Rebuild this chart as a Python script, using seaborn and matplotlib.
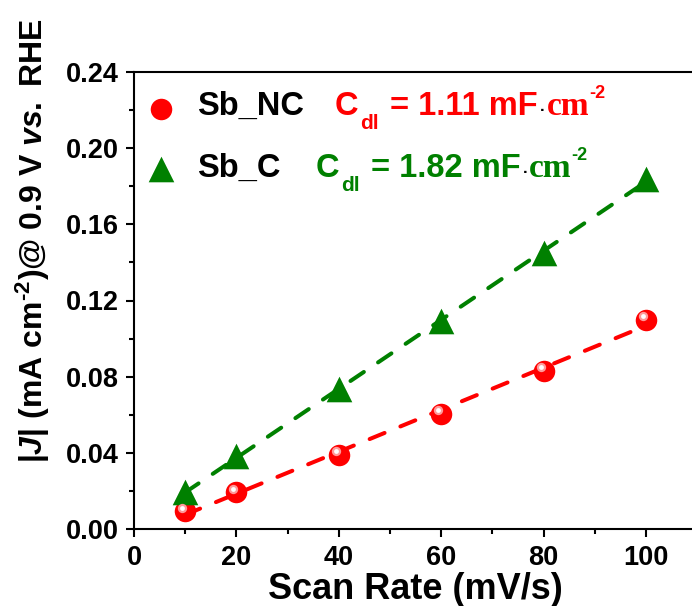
import numpy as np
import pandas as pd
import matplotlib
matplotlib.use("Agg")
import matplotlib.pyplot as plt
from matplotlib.ticker import MultipleLocator, FormatStrFormatter
from matplotlib.transforms import ScaledTranslation
import seaborn as sns

# ---- data -------------------------------------------------------------
scan_rate = [10, 20, 40, 60, 80, 100]                     # mV/s
j_sb_nc = [0.0094, 0.0192, 0.0389, 0.0604, 0.0830, 0.1098]  # mA cm^-2
j_sb_c = [0.0192, 0.0381, 0.0735, 0.1090, 0.1450, 0.1836]   # mA cm^-2
samples = ["Sb_NC", "Sb_C"]
cdl_values = [1.11, 1.82]                                 # mF cm^-2
colors = ["#ff0000", "#008000"]
x_ticks = [0, 20, 40, 60, 80, 100]
y_ticks = [0.00, 0.04, 0.08, 0.12, 0.16, 0.20, 0.24]

df = pd.DataFrame({
    "scan_rate": scan_rate + scan_rate,
    "j": j_sb_nc + j_sb_c,
    "sample": [samples[0]] * len(scan_rate) + [samples[1]] * len(scan_rate),
})

# ---- style ------------------------------------------------------------
sns.set_theme(style="ticks")
plt.rcParams["font.family"] = ["Liberation Sans", "DejaVu Sans"]
plt.rcParams["font.weight"] = "bold"
plt.rcParams["text.color"] = "black"
plt.rcParams["axes.labelcolor"] = "black"
plt.rcParams["xtick.color"] = "black"
plt.rcParams["ytick.color"] = "black"
plt.rcParams["mathtext.fontset"] = "custom"
plt.rcParams["mathtext.rm"] = "Liberation Sans:bold"
plt.rcParams["mathtext.it"] = "Liberation Sans:italic:bold"
plt.rcParams["mathtext.bf"] = "Liberation Sans:bold"

W, H, DPI = 692, 606, 100
fig = plt.figure(figsize=(W / DPI, H / DPI), dpi=DPI)
ax = fig.add_axes([134 / W, 77 / H, 558 / W, 457 / H])

# ---- linear fits (dashed) ----------------------------------------------
for name, color in zip(samples, colors):
    sub = df[df["sample"] == name]
    sns.regplot(data=sub, x="scan_rate", y="j", scatter=False, ci=None,
                ax=ax, color=color,
                line_kws=dict(lw=2.9, dashes=(4, 4.25),
                              dash_capstyle="round", zorder=2))

# ---- markers ------------------------------------------------------------
sub_nc = df[df["sample"] == samples[0]]
sub_c = df[df["sample"] == samples[1]]
sns.scatterplot(data=sub_nc, x="scan_rate", y="j", marker="o", s=240,
                color=colors[0], linewidth=0, ax=ax, zorder=3, legend=False)
sns.scatterplot(data=sub_c, x="scan_rate", y="j", marker="^", s=340,
                color=colors[1], linewidth=0, ax=ax, zorder=3, legend=False)


def sphere_glint(x, y, transform):
    """Small highlight on the red balls, shifted up-left."""
    shift = ScaledTranslation(-3.0 / DPI, 3.5 / DPI, fig.dpi_scale_trans)
    ax.scatter(x, y, s=45, color="#ff9a9a", linewidth=0,
               transform=transform + shift, zorder=4, clip_on=False)
    ax.scatter(x, y, s=12, color="#ffffff", linewidth=0,
               transform=transform + shift, zorder=5, clip_on=False)


sphere_glint(scan_rate, j_sb_nc, ax.transData)

# ---- axes -------------------------------------------------------------
ax.set_xlim(0, 109)
ax.set_ylim(0, 0.24)
ax.set_xticks(x_ticks)
ax.set_yticks(y_ticks)
ax.yaxis.set_major_formatter(FormatStrFormatter("%.2f"))
ax.xaxis.set_minor_locator(MultipleLocator(10))
ax.yaxis.set_minor_locator(MultipleLocator(0.02))
ax.tick_params(which="major", direction="out", length=5.8, width=1.5,
               color="black", labelcolor="black", labelsize=19.5)
ax.tick_params(which="minor", direction="out", length=3.3, width=1.5,
               color="black")
ax.tick_params(axis="x", which="major", pad=6)
ax.tick_params(axis="y", which="major", pad=5)
for lbl in ax.get_xticklabels() + ax.get_yticklabels():
    lbl.set_fontweight("bold")
ax.spines["right"].set_visible(False)
for side in ("left", "bottom", "top"):
    ax.spines[side].set_linewidth(1.5)
    ax.spines[side].set_color("black")

ax.set_xlabel("Scan Rate (mV/s)", fontsize=26, fontweight="bold",
              color="black")
ax.xaxis.set_label_coords(0.5045, -0.094)
ax.set_ylabel(r"$|\mathit{J}|$ (mA cm$^{\text{-2}}$)@ 0.9 V $\mathit{vs.}$ RHE",
              fontsize=23, fontweight="bold", color="black")
ax.yaxis.set_label_coords(-0.147, 0.631)

# ---- legend block -------------------------------------------------------
renderer = fig.canvas.get_renderer()


def ax_pt(px, py):
    x0, y0 = 134, 529
    return (px - x0) / 558, (y0 - py) / 457


def text_run(px, py, pieces):
    """Lay out pieces of text one after another along a common baseline."""
    x = px
    for txt, color, size, family, dy, gap in pieces:
        x += gap
        fx, fy = ax_pt(x, py + dy)
        t = ax.text(fx, fy, txt, transform=ax.transAxes, color=color,
                    fontsize=size, family=family, fontweight="bold",
                    ha="left", va="baseline", zorder=6)
        x += t.get_window_extent(renderer).width


legend_rows = [
    (samples[0], colors[0], "o", 240, 108.5, 115, 335),
    (samples[1], colors[1], "^", 340, 168.5, 176.7, 315.7),
]
sans = ["Liberation Sans", "DejaVu Sans"]
serif = ["Liberation Serif", "DejaVu Serif"]
for (name, color, marker, size, my, base, cx), cdl in zip(legend_rows, cdl_values):
    mx, myf = ax_pt(161, my)
    ax.scatter([mx], [myf], marker=marker, s=size, color=color, linewidth=0,
               transform=ax.transAxes, zorder=6, clip_on=False)
    if marker == "o":
        sphere_glint([mx], [myf], ax.transAxes)
    text_run(196.7, base, [(name, "black", 23.5, sans, 0, 0)])
    text_run(cx, base, [
        ("C", color, 23.5, sans, 0, 0),
        ("dl", color, 15, sans, 14, 2),
        (f"= {cdl:.2f} mF", color, 23.5, sans, 0, 11),
        ("\u00b7", "black", 12, sans, 0, 2),
        ("cm", color, 24, serif, 0, 1),
        ("-2", color, 13, sans, -17, 0),
    ])

fig.savefig("out.png", dpi=DPI)
